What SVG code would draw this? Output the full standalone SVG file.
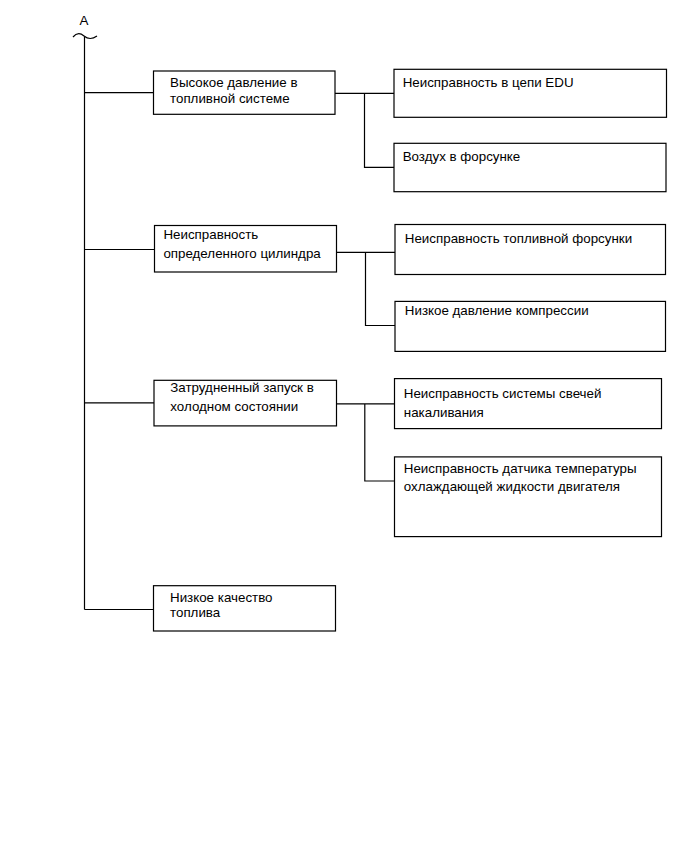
<svg xmlns="http://www.w3.org/2000/svg" width="690" height="854" viewBox="0 0 690 854">
<style>
.b{fill:#fff;stroke:#000;stroke-width:1.2}
.c{fill:none;stroke:#000;stroke-width:1.2}
text{font-family:"Liberation Sans",Arial,sans-serif;font-size:13.35px;fill:#000}
</style>
<rect width="690" height="854" fill="#fff"/>
<g id="connectors">
<path class="c" d="M73,37 Q78,31 84,36 Q90,41 97,36"/>
<path class="c" d="M84.5,37 V609.5"/>
<path class="c" d="M84.5,92.7 H153.5 M84.5,249.5 H154.5 M84.5,402.8 H154 M84.5,609.5 H153.5"/>
<path class="c" d="M335,93.3 H394 M364.5,93.3 V167.3 H394"/>
<path class="c" d="M336.5,252.4 H395 M365.5,252.4 V325.5 H395"/>
<path class="c" d="M336.5,403.8 H394.5 M364.8,403.8 V481 H394.5"/>
</g>
<g id="label-A"><text x="84" y="25" text-anchor="middle" font-size="12">A</text></g>
<g id="n1"><rect class="b" x="153.5" y="71" width="181.5" height="43.3"/><text x="170" y="86.7">Высокое давление в</text><text x="170" y="102.7">топливной системе</text></g>
<g id="n2"><rect class="b" x="394" y="69.3" width="272.5" height="48"/><text x="402.7" y="87.3">Неисправность в цепи EDU</text></g>
<g id="n3"><rect class="b" x="394" y="143.3" width="272" height="48.4"/><text x="402.7" y="161">Воздух в форсунке</text></g>
<g id="n4"><rect class="b" x="154.5" y="225.5" width="182" height="46.5"/><text x="163.4" y="239.3">Неисправность</text><text x="163.4" y="257.6">определенного цилиндра</text></g>
<g id="n5"><rect class="b" x="395" y="224.5" width="270.5" height="50"/><text x="404.8" y="242.8">Неисправность топливной форсунки</text></g>
<g id="n6"><rect class="b" x="395" y="301.4" width="270.5" height="50"/><text x="404.8" y="315.2">Низкое давление компрессии</text></g>
<g id="n7"><rect class="b" x="154" y="380.3" width="182.5" height="45.6"/><text x="170.3" y="392.4">Затрудненный запуск в</text><text x="170.3" y="411.4">холодном состоянии</text></g>
<g id="n8"><rect class="b" x="394.5" y="378.6" width="267" height="50"/><text x="403.8" y="398.3">Неисправность системы свечей</text><text x="403.8" y="416.6">накаливания</text></g>
<g id="n9"><rect class="b" x="394.5" y="456.9" width="267" height="79.7"/><text x="403.8" y="473.4">Неисправность датчика температуры</text><text x="403.8" y="491.4">охлаждающей жидкости двигателя</text></g>
<g id="n10"><rect class="b" x="153.5" y="585.7" width="182" height="45.3"/><text x="170" y="601.7">Низкое качество</text><text x="170" y="616.7">топлива</text></g>
</svg>
